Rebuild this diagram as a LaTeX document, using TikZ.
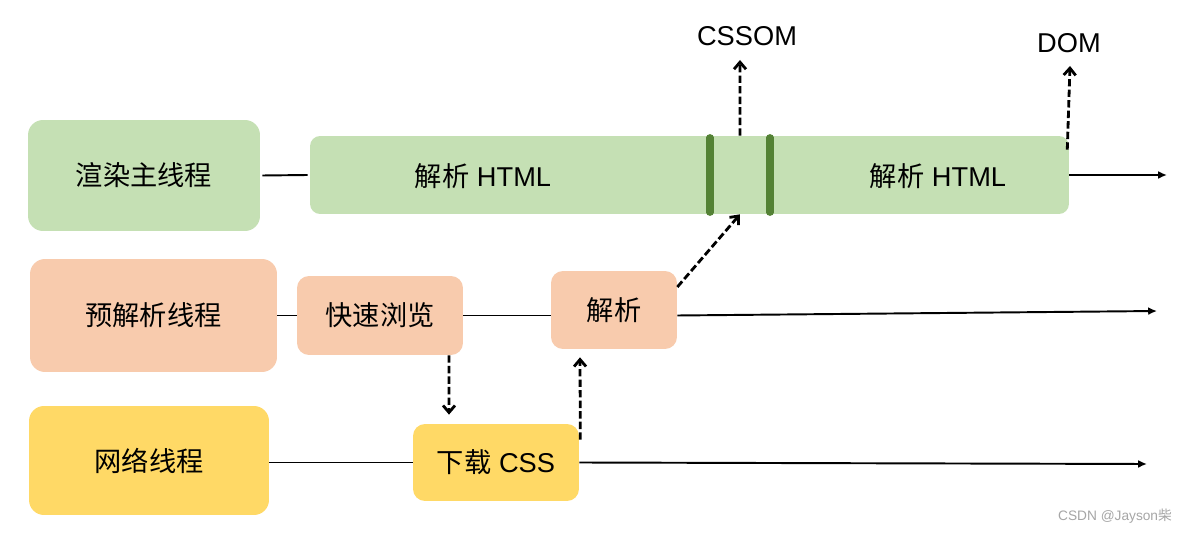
\documentclass[tikz,border=0pt]{standalone}
\usepackage{fontspec}
\setmainfont{Liberation Sans}
\newfontfamily\cjk{Noto Sans CJK SC}
\usetikzlibrary{arrows.meta}
\definecolor{gfill}{HTML}{C5E0B4}
\definecolor{ofill}{HTML}{F8CBAD}
\definecolor{yfill}{HTML}{FFD966}
\definecolor{gdiv}{HTML}{548235}
\definecolor{wm}{HTML}{A6A6A6}
\tikzset{
  box/.style={rounded corners=0.3cm, inner sep=0pt, font=\fontsize{15.5}{18}\selectfont},
  sbox/.style={rounded corners=0.24cm, inner sep=0pt, font=\fontsize{15.5}{18}\selectfont},
  lbl/.style={inner sep=0pt, font=\fontsize{15.5}{18}\selectfont},
  tl/.style={line width=1.1pt},
  tla/.style={line width=1.1pt, -{Latex[length=5pt,width=4.5pt]}},
  da/.style={line width=1.6pt, dash pattern=on 4.2pt off 1.8pt, -{Straight Barb[length=4pt,width=6.8pt]}},
  divider/.style={line width=4pt, gdiv, line cap=round}
}
\begin{document}
\begin{tikzpicture}[x=0.02cm, y=-0.02cm]
\path[use as bounding box, fill=white] (0,0) rectangle (1187,533);
% thread labels
\node[box, fill=gfill, minimum width=4.64cm, minimum height=2.22cm] (r) at (144,175.5) {\cjk 渲染主线程};
\node[box, fill=ofill, minimum width=4.94cm, minimum height=2.26cm] (p) at (153.5,315.5) {\cjk 预解析线程};
\node[box, fill=yfill, minimum width=4.80cm, minimum height=2.18cm] (n) at (149,460.5) {\cjk 网络线程};
% main bar
\node[sbox, rounded corners=0.2cm, fill=gfill, minimum width=15.18cm, minimum height=1.56cm] (bar) at (689.5,175) {};
\node[lbl] (h1) at (483,176) {{\cjk 解析} HTML};
\node[lbl] (h2) at (938,176) {{\cjk 解析} HTML};
\draw[divider] ([xshift=0.41cm,yshift=-0.04cm]bar.north) -- ([xshift=0.41cm,yshift=0.04cm]bar.south);
\draw[divider] ([xshift=1.61cm,yshift=-0.04cm]bar.north) -- ([xshift=1.61cm,yshift=0.04cm]bar.south);
% other boxes
\node[sbox, fill=ofill, minimum width=3.32cm, minimum height=1.58cm] (fast) at (380,315.5) {\cjk 快速浏览};
\node[sbox, fill=ofill, minimum width=2.52cm, minimum height=1.56cm] (parse) at (614,310) {\cjk 解析};
\node[sbox, fill=yfill, minimum width=3.32cm, minimum height=1.54cm] (dl) at (496,462.5) {{\cjk 下载} CSS};
% labels
\node[lbl] (cssom) at (747,36) {CSSOM};
\node[lbl] (dom) at (1069,43) {DOM};
\node[inner sep=0pt, text=wm, font=\fontsize{7.8}{9}\selectfont] (wmk) at (1115,516) {CSDN @Jayson{\cjk 柴}};
% end coordinates
\coordinate (rend) at (1167,175);
\coordinate (pend) at (1157,311);
\coordinate (nend) at (1147,464);
\coordinate (cssomtip) at (740,60);
\coordinate (domtip) at (1070,66);
% timelines
\draw[tl] ([xshift=0.04cm]r.east) -- ([xshift=-0.04cm]bar.west);
\draw[tla] (bar.east) -- (rend);
\draw[tl] (p.east |- fast) -- (fast.west);
\draw[tl] (fast.east) -- (parse.west |- fast);
\draw[tla] (parse.east |- fast) -- (pend);
\draw[tl] (n.east |- dl) -- (dl.west |- dl);
\draw[tla] (dl.east) -- (nend);
% dashed dependencies
\draw[da] ([xshift=1.38cm]fast.south) -- ([xshift=-0.94cm,yshift=0.18cm]dl.north);
\draw[da] ([xshift=0.02cm,yshift=-0.32cm]dl.north east) -- ([xshift=-0.68cm,yshift=-0.16cm]parse.south);
\draw[da] ([yshift=0.46cm]parse.east) -- ([xshift=1.01cm]bar.south);
\draw[da] ([xshift=1.01cm]bar.north) -- (cssomtip);
\draw[da] ([xshift=-0.04cm,yshift=-0.28cm]bar.north east) -- (domtip);
\end{tikzpicture}
\end{document}
